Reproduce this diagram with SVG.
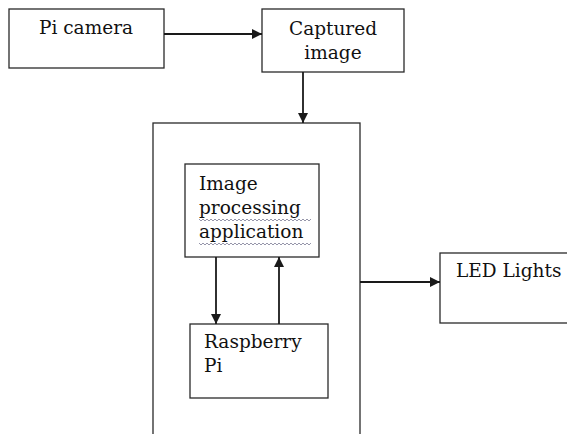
<svg xmlns="http://www.w3.org/2000/svg" width="567" height="434" viewBox="0 0 567 434">
<style>
.box{fill:#fff;stroke:#2a2a2a;stroke-width:1.3}
.t{font-family:"DejaVu Serif","Liberation Serif",serif;font-size:18.5px;fill:#111}
.c{fill:none;stroke:#1a1a1a;stroke-width:1.8}
.sq{fill:none;stroke:#8a8aa0;stroke-width:0.9}
</style>
<defs>
<marker id="ah" viewBox="0 0 10 10" refX="10" refY="5" markerWidth="10" markerHeight="10" markerUnits="userSpaceOnUse" orient="auto">
<path d="M0,0 L10,5 L0,10 z" fill="#1a1a1a"/>
</marker>
</defs>
<rect width="567" height="434" fill="#fff"/>
<g id="outer"><rect class="box" x="153" y="123" width="207" height="320"/></g>
<g id="picamera"><rect class="box" x="9" y="9" width="155" height="59"/><text class="t" x="86" y="34" text-anchor="middle">Pi camera</text></g>
<g id="captured"><rect class="box" x="262" y="9" width="142" height="63"/><text class="t" x="333" y="35" text-anchor="middle">Captured</text><text class="t" x="333" y="59" text-anchor="middle">image</text></g>
<g id="imgproc"><rect class="box" x="185" y="164" width="134" height="93"/><text class="t" x="199" y="190">Image</text><text class="t" x="199" y="214">processing</text><text class="t" x="199" y="238">application</text>
<path class="sq" d="M199,219 l2,2 l2,-2 l2,2 l2,-2 l2,2 l2,-2 l2,2 l2,-2 l2,2 l2,-2 l2,2 l2,-2 l2,2 l2,-2 l2,2 l2,-2 l2,2 l2,-2 l2,2 l2,-2 l2,2 l2,-2 l2,2 l2,-2 l2,2 l2,-2 l2,2 l2,-2 l2,2 l2,-2 l2,2 l2,-2 l2,2 l2,-2 l2,2 l2,-2 l2,2 l2,-2 l2,2 l2,-2 l2,2 l2,-2 l2,2 l2,-2 l2,2 l2,-2 l2,2 l2,-2 l2,2 l2,-2 l2,2 l2,-2 l2,2 l2,-2 l2,2 l2,-2"/>
<path class="sq" d="M199,243 l2,2 l2,-2 l2,2 l2,-2 l2,2 l2,-2 l2,2 l2,-2 l2,2 l2,-2 l2,2 l2,-2 l2,2 l2,-2 l2,2 l2,-2 l2,2 l2,-2 l2,2 l2,-2 l2,2 l2,-2 l2,2 l2,-2 l2,2 l2,-2 l2,2 l2,-2 l2,2 l2,-2 l2,2 l2,-2 l2,2 l2,-2 l2,2 l2,-2 l2,2 l2,-2 l2,2 l2,-2 l2,2 l2,-2 l2,2 l2,-2 l2,2 l2,-2 l2,2 l2,-2 l2,2 l2,-2 l2,2 l2,-2 l2,2 l2,-2 l2,2 l2,-2"/>
</g>
<g id="raspberry"><rect class="box" x="190" y="324" width="138" height="74"/><text class="t" x="204" y="348">Raspberry</text><text class="t" x="204" y="372">Pi</text></g>
<g id="led"><rect class="box" x="440" y="253" width="135" height="70"/><text class="t" x="456" y="277">LED Lights</text></g>
<g id="connectors">
<line class="c" x1="164" y1="34" x2="262" y2="34" marker-end="url(#ah)"/>
<line class="c" x1="303" y1="72" x2="303" y2="123" marker-end="url(#ah)"/>
<line class="c" x1="216" y1="257" x2="216" y2="324" marker-end="url(#ah)"/>
<line class="c" x1="279" y1="324" x2="279" y2="257" marker-end="url(#ah)"/>
<line class="c" x1="360" y1="282" x2="440" y2="282" marker-end="url(#ah)"/>
</g>
</svg>
